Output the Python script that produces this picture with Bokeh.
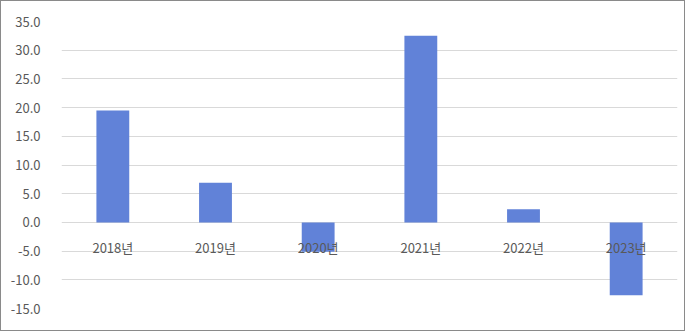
from bokeh.plotting import figure
from bokeh.models import FixedTicker, NumeralTickFormatter, ColumnDataSource, Range1d
from bokeh.core.properties import value
from bokeh.embed import file_html
from bokeh.resources import INLINE

categories = ["2018년", "2019년", "2020년", "2021년", "2022년", "2023년"]
values = [19.5, 6.9, -5.1, 32.5, 2.3, -12.7]
y_ticks = [-15, -10, -5, 0, 5, 10, 15, 20, 25, 30, 35]

FONT = "Noto Sans CJK KR"
TXT = "#595959"

src = ColumnDataSource(dict(cat=categories, val=values, zero=[0] * len(categories)))

p = figure(x_range=categories, y_range=Range1d(-15, 35),
           width=685, height=331, output_backend="svg", toolbar_location=None,
           min_border_left=60, min_border_right=9, min_border_top=20, min_border_bottom=24)
p.styles = {"border": "1px solid #8a8a8a", "box-sizing": "border-box"}
p.outline_line_color = None
p.background_fill_color = "white"
p.border_fill_color = "white"

p.vbar(x="cat", top="val", bottom=0, width=0.32, source=src,
       fill_color="#6182D8", line_color=None)

p.text(x="cat", y="zero", text="cat", source=src, y_offset=25,
       text_align="center", text_baseline="middle",
       text_font=value(FONT), text_font_size="13px", text_color=TXT)

p.xaxis.visible = False
p.xgrid.grid_line_color = None
p.ygrid.grid_line_color = "#d9d9d9"
p.ygrid.grid_line_width = 1

ya = p.yaxis[0]
ya.ticker = FixedTicker(ticks=y_ticks)
ya.formatter = NumeralTickFormatter(format="0.0")
ya.axis_line_color = None
ya.major_tick_line_color = None
ya.minor_tick_line_color = None
ya.major_label_text_font = FONT
ya.major_label_text_font_size = "13px"
ya.major_label_text_color = TXT
ya.major_label_standoff = 15

open("out.html", "w").write(file_html(p, INLINE))
